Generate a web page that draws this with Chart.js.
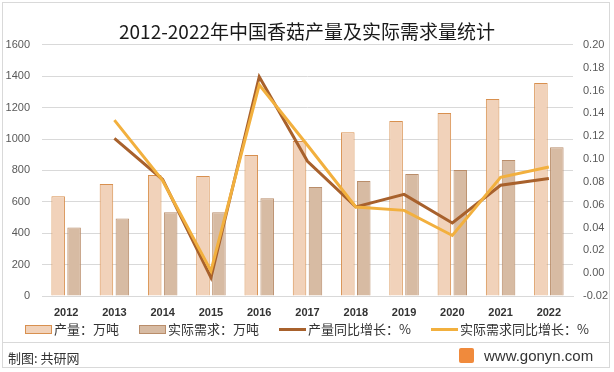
<!DOCTYPE html>
<html>
<head>
<meta charset="utf-8">
<script src="https://cdn.jsdelivr.net/npm/chart.js@4.4.0/dist/chart.umd.min.js"></script>
<style>
    html, body { margin: 0; padding: 0; background: #fff; }
    #wrap { position: relative; width: 614px; height: 372px; font-family: "Noto Sans CJK SC", "Noto Sans", sans-serif; }
    #frame { position: absolute; left: 2px; top: 2px; width: 608px; height: 366px; border: 1px solid #d9d9d9; box-sizing: border-box; }
    #sep { position: absolute; left: 2px; top: 342px; width: 608px; height: 0; border-top: 1px solid #d9d9d9; }
    canvas { position: absolute; left: 0; top: 0; }
    #legend { position: absolute; left: 0; top: 321px; width: 614px; display: flex; justify-content: center; gap: 20px; font-size: 13px; line-height: 16px; color: #333; }
    #legend .item { display: flex; align-items: center; }
    #legend .mark { width: 27px; margin-right: 2px; box-sizing: border-box; }
    #credit { position: absolute; left: 8px; top: 348px; font-size: 13px; color: #333; }
    #site { position: absolute; left: 459px; top: 347px; font-size: 15px; line-height: 18px; color: #333; font-family: "Liberation Sans", Arial, sans-serif; }
    #site span.logo { display: inline-block; width: 15px; height: 15px; background: #f08a3c; border-radius: 2px; margin-right: 10px; vertical-align: -2px; }
</style>
</head>
<body>
<div id="wrap">
    <canvas id="shiitakeChart" width="614" height="342"></canvas>
    <div id="legend"></div>
    <div id="frame"></div>
    <div id="sep"></div>
    <div id="credit">制图: 共研网</div>
    <div id="site"><span class="logo"></span>www.gonyn.com</div>
</div>
<script>
// data
const years = ['2012', '2013', '2014', '2015', '2016', '2017', '2018', '2019', '2020', '2021', '2022'];
const output = [636, 713, 770, 764, 898, 987, 1043, 1115, 1166, 1255, 1357];
const demand = [436, 494, 534, 534, 623, 694, 732, 777, 802, 866, 947];
const outputGrowth = [null, 0.118, 0.082, -0.004, 0.172, 0.098, 0.058, 0.069, 0.044, 0.077, 0.083];
const demandGrowth = [null, 0.134, 0.081, 0.002, 0.165, 0.112, 0.058, 0.055, 0.033, 0.084, 0.093];
const leftTicks = [0, 200, 400, 600, 800, 1000, 1200, 1400, 1600];
const rightTicks = [-0.02, 0, 0.02, 0.04, 0.06, 0.08, 0.10, 0.12, 0.14, 0.16, 0.18, 0.20];

const ctx = document.getElementById('shiitakeChart').getContext('2d');
const chart = new Chart(ctx, {
    type: 'bar',
    data: {
        labels: years,
        datasets: [{
            label: '产量：万吨',
            data: output,
            backgroundColor: '#f1d2ba',
            borderColor: '#d8904f',
            borderWidth: 1,
            yAxisID: 'y',
            order: 3,
            categoryPercentage: 0.66,
            barPercentage: 0.85
        }, {
            label: '实际需求：万吨',
            data: demand,
            backgroundColor: '#d7bba3',
            borderColor: '#b98d6a',
            borderWidth: 1,
            yAxisID: 'y',
            order: 4,
            categoryPercentage: 0.66,
            barPercentage: 0.85
        }, {
            type: 'line',
            label: '产量同比增长：%',
            data: outputGrowth,
            borderColor: '#a8612c',
            backgroundColor: '#a8612c',
            borderWidth: 3,
            pointRadius: 0,
            tension: 0,
            yAxisID: 'y1',
            order: 2
        }, {
            type: 'line',
            label: '实际需求同比增长：%',
            data: demandGrowth,
            borderColor: '#f2b03e',
            backgroundColor: '#f2b03e',
            borderWidth: 3,
            pointRadius: 0,
            tension: 0,
            yAxisID: 'y1',
            order: 1
        }]
    },
    options: {
        responsive: false,
        animation: false,
        layout: { padding: { left: 0, right: 0, top: 0, bottom: 22 } },
        plugins: {
            title: {
                display: true,
                text: '2012-2022年中国香菇产量及实际需求量统计',
                color: '#1a1a1a',
                font: { family: '"Noto Sans CJK SC", sans-serif', size: 19, weight: 'normal' },
                padding: { top: 20, bottom: 2 }
            },
            legend: { display: false },
            tooltip: { enabled: false }
        },
        scales: {
            x: {
                afterFit: axis => { axis.height = 24; },
                grid: { display: false, drawTicks: false },
                border: { color: '#d9d9d9' },
                ticks: {
                    color: '#333',
                    padding: 10,
                    font: { family: '"Liberation Sans", Arial, sans-serif', size: 11, weight: 'bold' }
                }
            },
            y: {
                position: 'left',
                min: 0,
                max: 1600,
                afterBuildTicks: axis => { axis.ticks = leftTicks.map(v => ({ value: v })); },
                afterFit: axis => { axis.width = 42; },
                grid: { color: '#d9d9d9', drawTicks: false },
                border: { display: false },
                ticks: {
                    color: '#595959',
                    padding: 12,
                    callback: v => String(v),
                    font: { family: '"Liberation Sans", Arial, sans-serif', size: 11 }
                }
            },
            y1: {
                position: 'right',
                min: -0.02,
                max: 0.20,
                afterBuildTicks: axis => { axis.ticks = rightTicks.map(v => ({ value: v })); },
                afterFit: axis => { axis.width = 41; },
                grid: { display: false, drawTicks: false },
                border: { display: false },
                ticks: {
                    color: '#595959',
                    padding: 10,
                    callback: v => v.toFixed(2),
                    font: { family: '"Liberation Sans", Arial, sans-serif', size: 11 }
                }
            }
        }
    }
});

// legend built from the chart's own datasets
const legendBox = document.getElementById('legend');
chart.data.datasets.forEach(ds => {
    const item = document.createElement('div');
    item.className = 'item';
    const mark = document.createElement('span');
    mark.className = 'mark';
    if (ds.type === 'line') {
        mark.style.height = '3px';
        mark.style.background = ds.borderColor;
    } else {
        mark.style.height = '9px';
        mark.style.background = ds.backgroundColor;
        mark.style.border = '1px solid ' + ds.borderColor;
    }
    const text = document.createElement('span');
    text.textContent = ds.label;
    item.appendChild(mark);
    item.appendChild(text);
    legendBox.appendChild(item);
});
</script>
</body>
</html>
